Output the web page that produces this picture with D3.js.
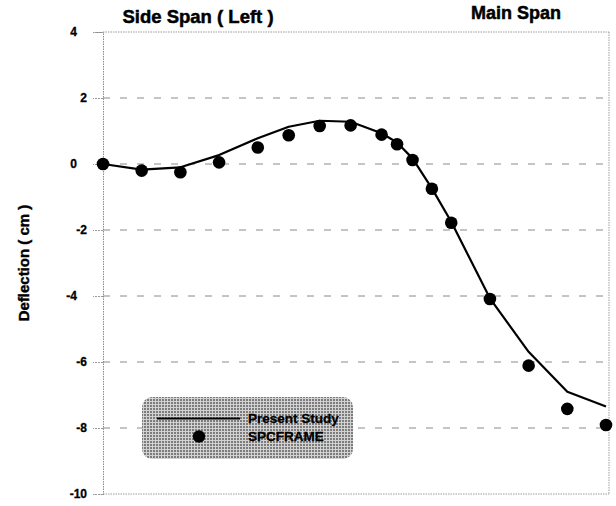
<!DOCTYPE html>
<html>
<head>
<meta charset="utf-8">
<script src="https://cdn.jsdelivr.net/npm/d3@7/dist/d3.min.js"></script>
<style>
  html, body { margin: 0; padding: 0; background: #fff; }
  svg { display: block; font-family: "Liberation Sans", Arial, sans-serif; }
</style>
</head>
<body>
<svg id="chart" width="616" height="506"></svg>
<script>
// Stations along the deck (span units) and deflections in cm
const lineStations = [0, 1, 2, 3, 4, 4.8, 5.6, 6.4, 7.2, 7.6, 8, 8.5, 9, 10, 11, 12, 13];
const presentStudy = [0, -0.17, -0.1, 0.27, 0.78, 1.13, 1.31, 1.28, 0.93, 0.65, 0.17, -0.74, -1.75, -4.07, -5.69, -6.9, -7.35];

const dotStations = [0, 1, 2, 3, 4, 4.8, 5.6, 6.4, 7.2, 7.6, 8, 8.5, 9, 10, 11, 12, 13];
const spcframe = [0, -0.2, -0.25, 0.05, 0.5, 0.87, 1.15, 1.17, 0.89, 0.6, 0.12, -0.75, -1.78, -4.09, -6.11, -7.42, -7.91];

const yTicks = [4, 2, 0, -2, -4, -6, -8, -10];
const spanTitles = ["Side Span ( Left )", "Main Span"];
const legendLabels = ["Present Study", "SPCFRAME"];

const svg = d3.select("#chart");

const x = d3.scaleLinear().domain([0, 13]).range([103, 606]);
const y = d3.scaleLinear().domain([-10, 4]).range([494, 32]);
const frameRight = 609;

// Legend fill: grey halftone
const defs = svg.append("defs");
const pat = defs.append("pattern")
  .attr("id", "halftone").attr("patternUnits", "userSpaceOnUse")
  .attr("width", 3).attr("height", 3);
pat.append("rect").attr("width", 3).attr("height", 3).attr("fill", "#d2d2d2");
pat.append("rect").attr("width", 2).attr("height", 2).attr("fill", "#7c7c7c");

// Horizontal dashed gridlines
svg.append("g")
  .selectAll("line")
  .data(yTicks.filter(v => v !== 4 && v !== -10))
  .join("line")
  .attr("x1", x(0)).attr("x2", frameRight - 4)
  .attr("y1", d => y(d)).attr("y2", d => y(d))
  .attr("stroke", "#8a8a8a").attr("stroke-width", 1)
  .attr("stroke-dasharray", "7,10");

// Dotted frame: top, right, bottom
const frame = svg.append("g").attr("stroke", "#9a9a9a").attr("stroke-width", 1)
  .attr("stroke-dasharray", "1.5,1");
frame.append("line").attr("x1", x(0)).attr("x2", frameRight).attr("y1", y(4)).attr("y2", y(4));
frame.append("line").attr("x1", frameRight).attr("x2", frameRight).attr("y1", y(4)).attr("y2", y(-10));
frame.append("line").attr("x1", x(0)).attr("x2", frameRight).attr("y1", y(-10)).attr("y2", y(-10));

// Left axis
const axis = svg.append("g")
  .attr("transform", `translate(${x(0)},0)`)
  .call(d3.axisLeft(y).tickValues(yTicks).tickSize(10).tickPadding(6).tickFormat(d => String(d)));
axis.select(".domain").attr("stroke", "#8a8a8a").attr("stroke-dasharray", "1.5,1");
axis.selectAll(".tick line").attr("stroke", "#9a9a9a").attr("stroke-dasharray", "2,1");
axis.selectAll(".tick text")
  .attr("fill", "#000")
  .attr("font-size", "12px")
  .attr("font-weight", "bold")
  .attr("font-family", "'Liberation Sans', Arial, sans-serif")
  .attr("stroke", "#000").attr("stroke-width", 0.3)
  .attr("dx", d => (d % 4 === 0 && d !== -8 ? -10 : (d === -10 ? 0 : 0)));

// Y axis title
svg.append("text")
  .attr("transform", `translate(29,${y(-3)}) rotate(-90)`)
  .attr("text-anchor", "middle")
  .attr("font-size", "15px").attr("font-weight", "bold")
  .attr("stroke", "#000").attr("stroke-width", 0.4)
  .text("Deflection ( cm )");

// Span titles
svg.append("text").attr("x", 198).attr("y", 23).attr("text-anchor", "middle")
  .attr("font-size", "18.5px").attr("font-weight", "bold")
  .attr("stroke", "#000").attr("stroke-width", 0.5).text(spanTitles[0]);
svg.append("text").attr("x", 516).attr("y", 19).attr("text-anchor", "middle")
  .attr("font-size", "18px").attr("font-weight", "bold")
  .attr("stroke", "#000").attr("stroke-width", 0.5).text(spanTitles[1]);

// Present Study line
const line = d3.line().x(d => x(d[0])).y(d => y(d[1])).curve(d3.curveLinear);
svg.append("path")
  .datum(lineStations.map((s, i) => [s, presentStudy[i]]))
  .attr("d", line)
  .attr("fill", "none").attr("stroke", "#000").attr("stroke-width", 2.2)
  .attr("stroke-linejoin", "round");

// SPCFRAME points
svg.append("g")
  .selectAll("circle")
  .data(dotStations.map((s, i) => [s, spcframe[i]]))
  .join("circle")
  .attr("cx", d => x(d[0])).attr("cy", d => y(d[1]))
  .attr("r", 6.3).attr("fill", "#000");

// Legend
const lg = svg.append("g");
lg.append("rect")
  .attr("x", 142).attr("y", 397).attr("width", 211).attr("height", 62)
  .attr("rx", 10).attr("ry", 10)
  .attr("fill", "url(#halftone)");
lg.append("line").attr("x1", 157).attr("x2", 240).attr("y1", 418.5).attr("y2", 418.5)
  .attr("stroke", "#000").attr("stroke-width", 2.2);
lg.append("circle").attr("cx", 199).attr("cy", 436.5).attr("r", 6.2).attr("fill", "#000");
lg.selectAll("text.lbl")
  .data(legendLabels)
  .join("text")
  .attr("class", "lbl")
  .attr("x", 248).attr("y", (d, i) => 423 + i * 18)
  .attr("font-size", "13.5px").attr("font-weight", "bold")
  .attr("stroke", "#000").attr("stroke-width", 0.3)
  .text(d => d);
</script>
</body>
</html>
